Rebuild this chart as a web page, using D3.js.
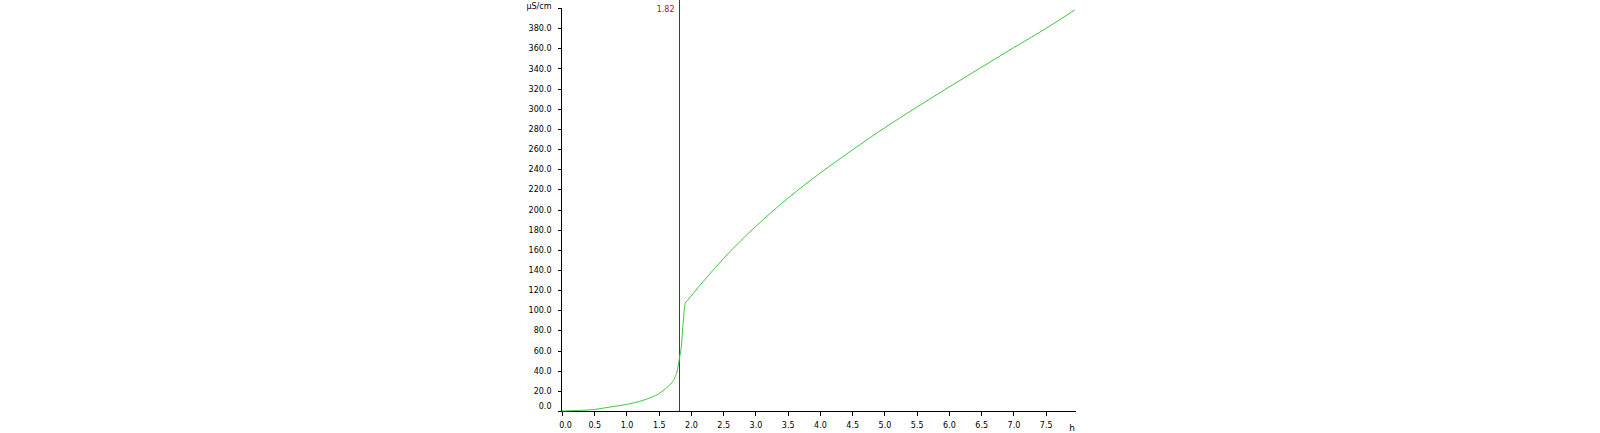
<!DOCTYPE html>
<html>
<head>
<meta charset="utf-8">
<script src="https://d3js.org/d3.v7.min.js"></script>
<style>
  html, body { margin: 0; padding: 0; background: #fff; }
  svg { display: block; }
  .axis text { font-family: "DejaVu Sans", sans-serif; font-size: 8px; fill: #000; }
  .axis path, .axis line { stroke: #000; shape-rendering: crispEdges; }
</style>
</head>
<body>
<div id="chart"></div>
<script>
// conductivity curve, values
var hours = [0.0, 0.25, 0.5, 0.75, 1.0, 1.2, 1.4, 1.5, 1.6, 1.7, 1.75, 1.8, 1.82, 1.85, 1.88, 1.9, 1.91, 1.95, 2.0,
             2.25, 2.5, 3.0, 3.5, 4.0, 4.5, 5.0, 5.5, 6.0, 6.5, 7.0, 7.5, 7.95];
var conductivity = [0, 0.5, 1.5, 4, 6.5, 9.5, 14, 17, 22, 28, 33, 44, 52, 64, 89, 103, 107, 110, 114,
                    133, 151, 183, 211, 236, 259, 281, 301.5, 321.5, 341, 360.5, 379.5, 398];

var xTicks = [0, 0.5, 1, 1.5, 2, 2.5, 3, 3.5, 4, 4.5, 5, 5.5, 6, 6.5, 7, 7.5];
var yTicks = [0, 20, 40, 60, 80, 100, 120, 140, 160, 180, 200, 220, 240, 260, 280, 300, 320, 340, 360, 380, 400];
var yUnit = "μS/cm";
var xUnit = "h";
var markerValue = 1.82;

var W = 1600, H = 433;
var fmt = d3.format(".1f");

var svg = d3.select("#chart").append("svg")
    .attr("width", W)
    .attr("height", H);

var x = d3.scaleLinear().domain([0, 7.97]).range([562, 1076]);
var y = d3.scaleLinear().domain([0, 400]).range([411, 8]);

// y axis
var yAxis = svg.append("g")
    .attr("class", "axis")
    .attr("transform", "translate(561.5,0)")
    .call(d3.axisLeft(y)
        .tickValues(yTicks)
        .tickSize(4)
        .tickSizeOuter(0)
        .tickPadding(6)
        .tickFormat(function(d){ return d === 400 ? yUnit : fmt(d); }));
yAxis.select(".domain").attr("d", "M0," + y(400) + "V" + (y(0) + 0.5));
yAxis.selectAll(".tick text")
    .attr("dy", function(d){ return d === 0 ? "-0.3em" : (d === 400 ? "0.1em" : "0.32em"); });

// x axis
var xAxis = svg.append("g")
    .attr("class", "axis")
    .attr("transform", "translate(0,411.5)")
    .call(d3.axisBottom(x)
        .tickValues(xTicks)
        .tickSize(4)
        .tickSizeOuter(0)
        .tickPadding(7)
        .tickFormat(fmt));
xAxis.select(".domain").attr("d", "M561,0H" + x(7.97));
xAxis.selectAll(".tick text")
    .attr("dx", function(d){ return d === 0 ? 3 : 0; });

svg.append("text")
    .attr("x", x(7.97) - 4)
    .attr("y", 431)
    .attr("text-anchor", "middle")
    .style("font-family", "DejaVu Sans, sans-serif")
    .style("font-size", "9px")
    .text(xUnit);

// marker line
var mx = Math.round(x(markerValue)) + 0.5;
svg.append("line")
    .attr("x1", mx)
    .attr("x2", mx)
    .attr("y1", 0)
    .attr("y2", y(0))
    .attr("stroke", "#a31515")
    .attr("stroke-width", 1);

svg.append("text")
    .attr("x", mx - 5)
    .attr("y", 12)
    .attr("text-anchor", "end")
    .style("font-family", "DejaVu Sans, sans-serif")
    .style("font-size", "8px")
    .style("fill", "#a31515")
    .text(String(markerValue));

// curve
var pts = hours.map(function(h, i){ return [h, conductivity[i]]; });
var line = d3.line()
    .x(function(d){ return x(d[0]); })
    .y(function(d){ return y(d[1]); })
    .curve(d3.curveMonotoneX);

svg.append("path")
    .datum(pts)
    .attr("fill", "none")
    .attr("stroke", "#3ec83e")
    .attr("stroke-width", 1)
    .attr("d", line);
</script>
</body>
</html>
